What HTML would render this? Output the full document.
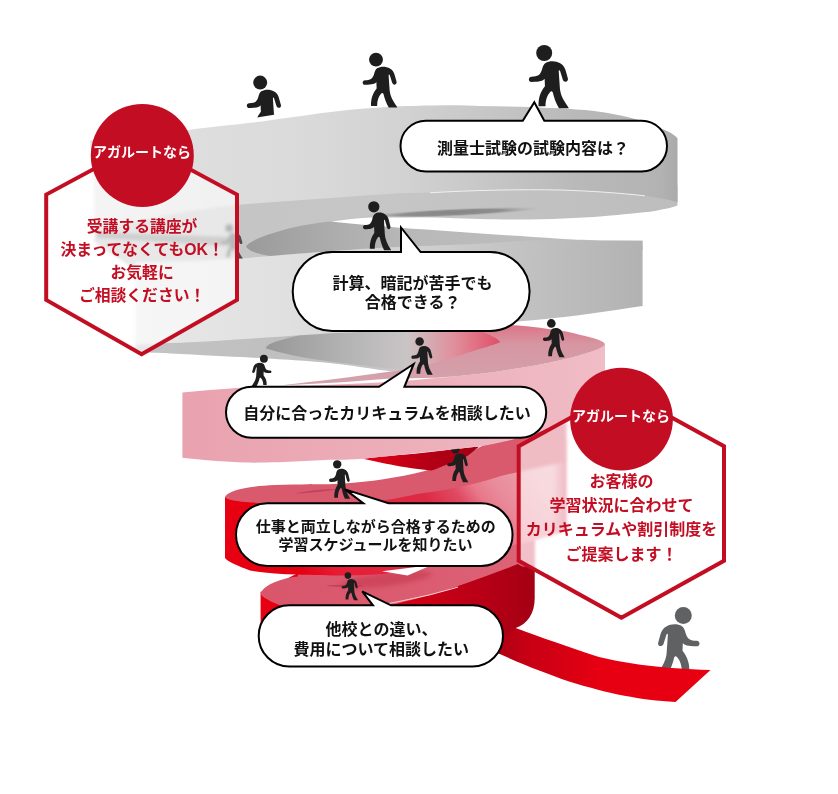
<!DOCTYPE html>
<html lang="ja">
<head>
<meta charset="utf-8">
<title>アガルートなら</title>
<style>
html,body{margin:0;padding:0;background:#fff;}
body{width:838px;height:794px;overflow:hidden;font-family:"Liberation Sans","Noto Sans CJK JP",sans-serif;}
svg{display:block;}
</style>
</head>
<body>
<svg width="838" height="794" viewBox="0 0 838 794" font-family="'Liberation Sans', 'Noto Sans CJK JP', sans-serif" font-weight="bold">

<defs>
  <linearGradient id="gT1" gradientUnits="userSpaceOnUse" x1="92" y1="0" x2="677" y2="0">
    <stop offset="0" stop-color="#e4e4e4"/><stop offset="0.17" stop-color="#dedede"/><stop offset="0.36" stop-color="#dadada"/><stop offset="0.53" stop-color="#d2d2d2"/><stop offset="0.66" stop-color="#c8c8c8"/><stop offset="0.83" stop-color="#b9b9b9"/><stop offset="0.97" stop-color="#b3b3b3"/><stop offset="1" stop-color="#aaaaaa"/>
  </linearGradient>
  <linearGradient id="gE1" gradientUnits="userSpaceOnUse" x1="94" y1="0" x2="677" y2="0">
    <stop offset="0" stop-color="#c4c4c4"/><stop offset="0.5" stop-color="#c6c6c6"/><stop offset="1" stop-color="#bdbdbd"/>
  </linearGradient>
  <linearGradient id="gT2" gradientUnits="userSpaceOnUse" x1="135" y1="0" x2="643" y2="0">
    <stop offset="0" stop-color="#e8e8e8"/><stop offset="0.3" stop-color="#e0e0e0"/><stop offset="0.6" stop-color="#cdcdcd"/><stop offset="0.85" stop-color="#bcbcbc"/><stop offset="1" stop-color="#b2b2b2"/>
  </linearGradient>
  <linearGradient id="gDark2" gradientUnits="userSpaceOnUse" x1="246" y1="0" x2="560" y2="0">
    <stop offset="0" stop-color="#9a9a9a"/><stop offset="0.3" stop-color="#aeaeae"/><stop offset="0.55" stop-color="#b9b9b9"/><stop offset="1" stop-color="#bdbdbd"/>
  </linearGradient>
  <linearGradient id="gIn" gradientUnits="userSpaceOnUse" x1="150" y1="0" x2="500" y2="0">
    <stop offset="0" stop-color="#c3c3c3"/><stop offset="0.4" stop-color="#bfbfbf"/><stop offset="0.7" stop-color="#c8c6c6"/><stop offset="0.85" stop-color="#dc9aa6"/><stop offset="1" stop-color="#e0566c"/>
  </linearGradient>
  <linearGradient id="gInDark" gradientUnits="userSpaceOnUse" x1="266" y1="0" x2="500" y2="0">
    <stop offset="0" stop-color="#979797"/><stop offset="0.35" stop-color="#b4b4b4"/><stop offset="0.6" stop-color="#c9c5c6"/><stop offset="0.8" stop-color="#e0909d"/><stop offset="1" stop-color="#e05068"/>
  </linearGradient>
  <linearGradient id="gRing" gradientUnits="userSpaceOnUse" x1="0" y1="322" x2="0" y2="385">
    <stop offset="0" stop-color="#dd6f82"/><stop offset="0.35" stop-color="#d696a2"/><stop offset="1" stop-color="#d3a3ad"/>
  </linearGradient>
  <linearGradient id="gT3" gradientUnits="userSpaceOnUse" x1="182" y1="0" x2="605" y2="0">
    <stop offset="0" stop-color="#e9a2af"/><stop offset="0.5" stop-color="#ecaeb9"/><stop offset="1" stop-color="#f0bcc6"/>
  </linearGradient>
  <linearGradient id="gWedge" gradientUnits="userSpaceOnUse" x1="363" y1="0" x2="479" y2="0">
    <stop offset="0" stop-color="#e60012"/><stop offset="0.5" stop-color="#b80016"/><stop offset="1" stop-color="#a00014"/>
  </linearGradient>
  <linearGradient id="gT4" gradientUnits="userSpaceOnUse" x1="330" y1="610" x2="560" y2="440">
    <stop offset="0" stop-color="#e60012"/><stop offset="0.1" stop-color="#e71c34"/><stop offset="0.25" stop-color="#e4243c"/><stop offset="0.5" stop-color="#dd2a44"/><stop offset="0.6" stop-color="#e04a62"/><stop offset="0.66" stop-color="#e8788a"/><stop offset="0.72" stop-color="#e98a99"/><stop offset="0.85" stop-color="#eba0ac"/><stop offset="1" stop-color="#eeb0bb"/>
  </linearGradient>
  <linearGradient id="gT4edge" gradientUnits="userSpaceOnUse" x1="552" y1="0" x2="566.5" y2="0">
    <stop offset="0" stop-color="#e4667a" stop-opacity="0"/><stop offset="0.6" stop-color="#de5c72" stop-opacity="0.7"/><stop offset="1" stop-color="#d94d66"/>
  </linearGradient>
  <linearGradient id="gS5" gradientUnits="userSpaceOnUse" x1="260" y1="0" x2="534" y2="0">
    <stop offset="0" stop-color="#d9566b"/><stop offset="0.6" stop-color="#db5c70"/><stop offset="1" stop-color="#dc6478"/>
  </linearGradient>
  <linearGradient id="gT5" gradientUnits="userSpaceOnUse" x1="260" y1="0" x2="535" y2="0">
    <stop offset="0" stop-color="#e60012"/><stop offset="0.45" stop-color="#dc0014"/><stop offset="0.8" stop-color="#b80016"/><stop offset="1" stop-color="#a40014"/>
  </linearGradient>
  <linearGradient id="gCarpet" gradientUnits="userSpaceOnUse" x1="490" y1="0" x2="600" y2="0">
    <stop offset="0" stop-color="#a80014"/><stop offset="0.35" stop-color="#c80014"/><stop offset="1" stop-color="#e60012"/>
  </linearGradient>
  <radialGradient id="gLens"><stop offset="0" stop-color="#858585"/><stop offset="0.55" stop-color="#8f8f8f"/><stop offset="1" stop-color="#b8b8b8" stop-opacity="0"/></radialGradient>
  <filter id="soft" x="-20%" y="-60%" width="140%" height="220%"><feGaussianBlur stdDeviation="2"/></filter>
  <filter id="blur" x="-10%" y="-10%" width="120%" height="120%"><feGaussianBlur stdDeviation="1.8"/></filter>
  <clipPath id="hex1"><path d="M141.6,143.2 L237,194.6 L237,299.9 L141.6,354.3 L46.2,299.9 L46.2,194.6 Z"/></clipPath>
  <clipPath id="hex2"><path d="M621.4,389.9 L724,446.2 L724,560.7 L621.4,617.7 L518.7,560.7 L518.7,446.2 Z"/></clipPath>
</defs>
<rect width="838" height="794" fill="#fff"/>
<g transform="translate(683.3 615.5) scale(-0.1133 0.1133)" fill="#5f6163" ><ellipse cx="0" cy="0.0" rx="75" ry="75.0"/><path d="M12,94 C50,70 110,72 150,96 C180,112 196,140 203,172 L222,240 C227,262 208,276 190,268 C178,262 174,252 171,240 L150,172 C146,160 138,156 136,168 L147,330 C152,390 178,440 226,508 L230,517 L138,517 C110,470 92,420 80,368 C72,356 62,358 56,366 C26,400 14,440 12,500 L-53,500 C-56,430 -40,370 7,312 L4,242 C-10,262 -40,270 -118,272 C-152,272 -152,222 -118,222 C-60,220 -40,210 -22,160 C-14,130 -6,106 12,94 Z"/></g>
<g id="scene">
<g transform="translate(260.2 82.6) scale(0.0933 0.0933)" fill="#1e1e1e" ><ellipse cx="0" cy="0.0" rx="75" ry="75.0"/><path d="M12,94 C50,70 110,72 150,96 C180,112 196,140 203,172 L222,240 C227,262 208,276 190,268 C178,262 174,252 171,240 L150,172 C146,160 138,156 136,168 L147,330 C152,390 178,440 226,508 L230,517 L138,517 C110,470 92,420 80,368 C72,356 62,358 56,366 C26,400 14,440 12,500 L-53,500 C-56,430 -40,370 7,312 L4,242 C-10,262 -40,270 -118,272 C-152,272 -152,222 -118,222 C-60,220 -40,210 -22,160 C-14,130 -6,106 12,94 Z"/></g><path d="M244,119.6 L286,112.8 L286,135 L244,135 Z" fill="#fff"/>

<g id="spiral">
  <!-- bottom carpet -->
  <path d="M470,600 C490,618 500,622 515.7,628 C540,637 570,647.5 599,657 C629,664 660,668.5 710.5,670 L675.5,702 C640,700 610,694 569,681.5 C540,671 515,662 470,640 Z" fill="url(#gCarpet)"/>

  <!-- turn 5 wall -->
  <path d="M260.6,592 L260.6,648 C262,656 275,660 300,663.5 C340,668 420,668 470,660 L515.7,628 C527,624 534.7,614 534.7,598 L534.7,540 L430,560 L300,572 Z" fill="url(#gT5)"/>
  <!-- turn 5 top surface -->
  <path d="M260.7,593.2 C263,588 268,585 273.9,582.4 C282,579 290,577.5 297.7,576.5 L300,560 L534.7,525 L534.7,566 C525,568 522,567 518,564 C513,566 508,568 505,569 C480,578 455,588 430,595 C415,599 400,603 390.8,605 C360,609 320,609 285.8,606.3 C280,605.5 277,604 273.9,602.7 C266,599 261,596 260.7,593.2 Z" fill="url(#gS5)"/>
  <!-- white gap between turn 4 wall and turn 5 surface -->

  <ellipse cx="386" cy="579.5" rx="46" ry="6.5" fill="#c6364e" fill-opacity="0.6" transform="rotate(-7 386 579.5)" filter="url(#soft)"/>
  <ellipse cx="345" cy="585.8" rx="18" ry="1.1" fill="#c23a50" fill-opacity="0.8"/>
  <!-- turn 4 wall -->
  <path d="M225,497 L225,558 C228,562 238,566 250,570.5 C265,573 280,574 297.7,574.6 C315,575.3 330,575.6 340,575.5 C360,575.3 372,574.8 383.7,574 C395,572 408,569.5 417,567 C435,563 450,559 460,556 C475,552.5 490,550 500,548 C520,544 535,540 545,537.5 C558,534 566.5,532 566.5,527 L566.5,436 L540,447 L500,468 L458,482 L420,489 L386,495 L334,498 L275,499 L225,497 Z" fill="url(#gT4)"/>
  <path d="M552,440 L566.5,440 L566.5,527 C566.5,531 560,533.5 552,535.5 Z" fill="url(#gT4edge)"/>
  <path d="M382,571.3 L432,565 L407.5,575.4 Z" fill="#fff"/>
  <path d="M389.3,603.4 C400,601.5 415,598 430.8,594.6 C440,592 450,589.5 458,587" fill="none" stroke="#f6d6da" stroke-width="1"/>
  <!-- turn 4 top surface -->
  <path d="M225,497 C228,490 250,486 275,485 C300,484 320,484.5 334,484 C360,483 386,479.5 414.5,473.5 C440,468 460,458 479,447.5 C495,440 505,436 540,422 L566.5,414 L566.5,462 C545,467 520,471 500,476.3 C485,481 470,485 458,487.3 C445,490.5 432,492 420,493.5 C405,496.5 395,499 386,500 C340,503 300,505 251,502.5 C238,501.5 226,500 225,497 Z" fill="#d9596d"/>
  <path d="M294,493.7 C310,490 325,489.2 339,489 C325,491.5 310,493 294,493.7 Z" fill="#c2445a"/>
  <!-- dark wedge under turn 3 -->
  <path d="M363,458.8 C380,456.5 400,455 414.5,453.7 C440,451 460,448.5 479.2,446.5 C475,450 471,453 467.7,455.8 C461,459.5 455,462 448.6,463.9 C442,466.5 437,468.5 431.5,470.6 C412,468.5 398,466 386,463.7 Z" fill="url(#gWedge)"/>

  <g transform="translate(455.3 448.6) scale(0.0560 0.0650)" fill="#1e1e1e" ><ellipse cx="0" cy="10.4" rx="75" ry="64.6"/><path d="M12,94 C50,70 110,72 150,96 C180,112 196,140 203,172 L222,240 C227,262 208,276 190,268 C178,262 174,252 171,240 L150,172 C146,160 138,156 136,168 L147,330 C152,390 178,440 226,508 L230,517 L138,517 C110,470 92,420 80,368 C72,356 62,358 56,366 C26,400 14,440 12,500 L-53,500 C-56,430 -40,370 7,312 L4,242 C-10,262 -40,270 -118,272 C-152,272 -152,222 -118,222 C-60,220 -40,210 -22,160 C-14,130 -6,106 12,94 Z"/></g>
  <!-- turn 3 wall (pink) -->
  <path d="M182.4,392.5 C200,390.8 220,389.2 237,388 C252,387.2 266,386.7 280,386.3 C300,385.7 318,385.1 336.8,384.5 C352,383.8 366,383.1 378.6,382.4 C390,381.7 400,381.1 408,380.5 C418,379.7 428,378.8 437,378 C460,376 480,374 494.6,372 C520,368 540,365 552,362 C565,359 575,357 580.5,355 C595,351 605,347 605,344 L605,402 C570,425 520,440 479,446.5 C450,449.5 400,455 363,458.8 C350,460 340,459.8 330,459.8 C320,460.3 310,460.9 300,461.3 C285,462.2 265,462.8 246,462.6 C225,462 200,459.8 182.4,457.8 Z" fill="url(#gT3)"/>
  <!-- turn 3 top ring -->
  <path d="M280,385.5 C300,384.5 318,383.4 336.8,382.4 C352,381.5 370,380 387,378.7 C405,378.3 420,378.1 437,377.8 C460,376 480,374 494.6,372 C520,368 540,365 552,362 C565,359 575,357 580.5,355 C595,351 605,347 605,344 C603,340 590,337 580.5,335 C570,332 562,330.5 552,329.4 C535,327 520,325.5 506,325 L440,322 L393,371.3 C391,371.5 389,371.7 387,372 C370,374.3 352,376.8 336.8,378.7 C318,380.9 300,383 280,385.5 Z" fill="url(#gRing)"/>
  <!-- funnel interior below turn 2 -->
  <path d="M135.4,340 L135.4,351.5 C155,353 165,353 170,353.5 C200,355 230,356.5 250,357.5 C270,358.5 285,359.5 300,360.5 C320,362 340,364 354,366 C370,368.5 382,370.5 393,371.5 C410,369 425,365.5 437,362 C450,358 460,355.5 466,353 C485,347 497,344 500,342 C497,338 480,332 440,322 L300,322 Z" fill="url(#gIn)"/>
  <path d="M266,348.4 C280,352.5 295,356 307,358 C325,361 345,363.5 362,365.3 C378,367.3 390,368.7 400,369.3 C415,368.3 428,365.5 437,362 C450,358 460,355.5 466,353 C485,347 497,344 500,342 C497,336 470,326 440,322 L320,322 L307,333 C300,335 295,336.5 285.3,339 C275,341.5 266,344.5 266,348.4 Z" fill="url(#gInDark)"/>

  <!-- gap zone between turn 1 and turn 2: mid-gray fill, dark opening, white gap -->
  <path d="M94.4,185 L677.5,185 L677.5,205.4 L642.6,241 L642.6,250 L135.4,270 L94.4,242 Z" fill="url(#gE1)"/>
  <path d="M97,232 L236,237 L236,247 L97,238 Z" fill="#8a8a8a"/>
  <path d="M246,246.5 C248,242 262,236 280.7,230.7 C300,225.5 315,223 331.4,221.6 C350,223.5 370,225.5 400,227.7 C450,231 500,235 560,238.8 C575,239.7 590,240.2 600,240.5 L600,246 L300,258 C275,258 250,254 246,246.5 Z" fill="url(#gDark2)"/>
  <path d="M331.4,221.6 C360,217.5 380,216.5 400,216.5 C430,217.3 460,218.5 480,219 C500,219.6 515,219.6 530,219.5 C560,219 590,217.5 611,215.5 C630,213.5 642,212.5 651.7,211.4 C665,209 672,207.5 677.5,205.4 L690,205 L690,246 L642.6,246 L642.6,240.8 L600,240.5 C585,240 570,239.5 560,238.8 C500,235 450,231 400,227.7 C370,225.5 350,223.5 331.4,221.6 Z" fill="#fff"/>
  <ellipse cx="452" cy="212.6" rx="92" ry="4.2" fill="url(#gLens)" transform="rotate(-2.6 452 212.6)"/>

  <!-- turn 2 wall -->
  <path d="M135.4,262 C170,262 215,260 240,258.4 C260,257 280,255 300,253.5 C320,252 345,250 370,248.5 C390,247.3 405,246.5 420,246 C450,245 475,244 490,243 C510,241.5 520,240.6 530,240.4 L642.6,240.8 L642.6,306 C610,311 575,316 546,319 C470,326 400,330 335,333 C310,334.5 290,336 266,337.5 C230,340 200,342 170,343 L135.4,345 Z" fill="url(#gT2)"/>

  <!-- turn 1 wall -->
  <path d="M90,140.5 C125,137.5 160,133.8 190,129.8 C202,128.3 214,127 225,125.6 C237,124.2 248,123.2 260,121.8 C270,120.4 280,119 290,117.6 C300,116.2 310,114.7 320,113.3 C330,112 340,110.8 350,109.8 C360,108.8 370,108 380,107.4 C400,106.3 415,105.9 430,105.6 C450,105 465,105.2 480,106 C520,106.5 555,107.8 585,110 C605,112 622,115.5 637,119.5 C650,123.3 662,128.5 668.6,131.8 C673,134 676,136.5 677.5,138.4 L677.5,202 C660,197.5 650,196.5 639.5,195 C600,191 560,190 530,189 C500,189 465,190.5 430.6,192.6 C420,193 410,193 400,193.2 C340,197 290,201 239,204.7 C200,208 150,218 94.4,230 L94.4,190 Z" fill="url(#gT1)"/>
  <path d="M430,192.8 C470,190.3 520,189.2 560,190 C590,190.9 620,193 645,195.8" fill="none" stroke="#f0f0f0" stroke-width="1"/>
</g>
<g transform="translate(229.3 228.2) scale(0.0587 0.0587)" fill="#4a4d50" ><ellipse cx="0" cy="0.0" rx="75" ry="75.0"/><path d="M12,94 C50,70 110,72 150,96 C180,112 196,140 203,172 L222,240 C227,262 208,276 190,268 C178,262 174,252 171,240 L150,172 C146,160 138,156 136,168 L147,330 C152,390 178,440 226,508 L230,517 L138,517 C110,470 92,420 80,368 C72,356 62,358 56,366 C26,400 14,440 12,500 L-53,500 C-56,430 -40,370 7,312 L4,242 C-10,262 -40,270 -118,272 C-152,272 -152,222 -118,222 C-60,220 -40,210 -22,160 C-14,130 -6,106 12,94 Z"/></g>
<g transform="translate(376 59.6) scale(0.0927 0.0927)" fill="#1e1e1e" ><ellipse cx="0" cy="0.0" rx="75" ry="75.0"/><path d="M12,94 C50,70 110,72 150,96 C180,112 196,140 203,172 L222,240 C227,262 208,276 190,268 C178,262 174,252 171,240 L150,172 C146,160 138,156 136,168 L147,330 C152,390 178,440 226,508 L230,517 L138,517 C110,470 92,420 80,368 C72,356 62,358 56,366 C26,400 14,440 12,500 L-53,500 C-56,430 -40,370 7,312 L4,242 C-10,262 -40,270 -118,272 C-152,272 -152,222 -118,222 C-60,220 -40,210 -22,160 C-14,130 -6,106 12,94 Z"/></g><g transform="translate(544.2 53) scale(0.1067 0.1067)" fill="#1e1e1e" ><ellipse cx="0" cy="0.0" rx="75" ry="75.0"/><path d="M12,94 C50,70 110,72 150,96 C180,112 196,140 203,172 L222,240 C227,262 208,276 190,268 C178,262 174,252 171,240 L150,172 C146,160 138,156 136,168 L147,330 C152,390 178,440 226,508 L230,517 L138,517 C110,470 92,420 80,368 C72,356 62,358 56,366 C26,400 14,440 12,500 L-53,500 C-56,430 -40,370 7,312 L4,242 C-10,262 -40,270 -118,272 C-152,272 -152,222 -118,222 C-60,220 -40,210 -22,160 C-14,130 -6,106 12,94 Z"/></g><g transform="translate(373.8 206.0) scale(0.0750 0.0857)" fill="#1e1e1e" ><ellipse cx="0" cy="9.4" rx="75" ry="65.6"/><path d="M12,94 C50,70 110,72 150,96 C180,112 196,140 203,172 L222,240 C227,262 208,276 190,268 C178,262 174,252 171,240 L150,172 C146,160 138,156 136,168 L147,330 C152,390 178,440 226,508 L230,517 L138,517 C110,470 92,420 80,368 C72,356 62,358 56,366 C26,400 14,440 12,500 L-53,500 C-56,430 -40,370 7,312 L4,242 C-10,262 -40,270 -118,272 C-152,272 -152,222 -118,222 C-60,220 -40,210 -22,160 C-14,130 -6,106 12,94 Z"/></g><g transform="translate(551.3 322.8) scale(0.0580 0.0667)" fill="#1e1e1e" ><ellipse cx="0" cy="9.8" rx="75" ry="65.2"/><path d="M12,94 C50,70 110,72 150,96 C180,112 196,140 203,172 L222,240 C227,262 208,276 190,268 C178,262 174,252 171,240 L150,172 C146,160 138,156 136,168 L147,330 C152,390 178,440 226,508 L230,517 L138,517 C110,470 92,420 80,368 C72,356 62,358 56,366 C26,400 14,440 12,500 L-53,500 C-56,430 -40,370 7,312 L4,242 C-10,262 -40,270 -118,272 C-152,272 -152,222 -118,222 C-60,220 -40,210 -22,160 C-14,130 -6,106 12,94 Z"/></g><g transform="translate(419.6 340.9) scale(0.0570 0.0655)" fill="#1e1e1e" ><ellipse cx="0" cy="9.7" rx="75" ry="65.3"/><path d="M12,94 C50,70 110,72 150,96 C180,112 196,140 203,172 L222,240 C227,262 208,276 190,268 C178,262 174,252 171,240 L150,172 C146,160 138,156 136,168 L147,330 C152,390 178,440 226,508 L230,517 L138,517 C110,470 92,420 80,368 C72,356 62,358 56,366 C26,400 14,440 12,500 L-53,500 C-56,430 -40,370 7,312 L4,242 C-10,262 -40,270 -118,272 C-152,272 -152,222 -118,222 C-60,220 -40,210 -22,160 C-14,130 -6,106 12,94 Z"/></g><g transform="translate(263.9 358.8) scale(-0.0525 0.0525)" fill="#1e1e1e" ><ellipse cx="0" cy="0.0" rx="75" ry="75.0"/><path d="M12,94 C50,70 110,72 150,96 C180,112 196,140 203,172 L222,240 C227,262 208,276 190,268 C178,262 174,252 171,240 L150,172 C146,160 138,156 136,168 L147,330 C152,390 178,440 226,508 L230,517 L138,517 C110,470 92,420 80,368 C72,356 62,358 56,366 C26,400 14,440 12,500 L-53,500 C-56,430 -40,370 7,312 L4,242 C-10,262 -40,270 -118,272 C-152,272 -152,222 -118,222 C-60,220 -40,210 -22,160 C-14,130 -6,106 12,94 Z"/></g><g transform="translate(337.2 463.4) scale(0.0560 0.0685)" fill="#1e1e1e" ><ellipse cx="0" cy="13.7" rx="75" ry="61.3"/><path d="M12,94 C50,70 110,72 150,96 C180,112 196,140 203,172 L222,240 C227,262 208,276 190,268 C178,262 174,252 171,240 L150,172 C146,160 138,156 136,168 L147,330 C152,390 178,440 226,508 L230,517 L138,517 C110,470 92,420 80,368 C72,356 62,358 56,366 C26,400 14,440 12,500 L-53,500 C-56,430 -40,370 7,312 L4,242 C-10,262 -40,270 -118,272 C-152,272 -152,222 -118,222 C-60,220 -40,210 -22,160 C-14,130 -6,106 12,94 Z"/></g><g transform="translate(347.9 575.3) scale(0.0440 0.0483)" fill="#1e1e1e" ><ellipse cx="0" cy="6.7" rx="75" ry="68.3"/><path d="M12,94 C50,70 110,72 150,96 C180,112 196,140 203,172 L222,240 C227,262 208,276 190,268 C178,262 174,252 171,240 L150,172 C146,160 138,156 136,168 L147,330 C152,390 178,440 226,508 L230,517 L138,517 C110,470 92,420 80,368 C72,356 62,358 56,366 C26,400 14,440 12,500 L-53,500 C-56,430 -40,370 7,312 L4,242 C-10,262 -40,270 -118,272 C-152,272 -152,222 -118,222 C-60,220 -40,210 -22,160 C-14,130 -6,106 12,94 Z"/></g>
</g>
<path d="M425.9,120.7 L522.8,120.7 L534.3,102.3 L544.3,120.7 L641.6,120.7 A25.4,25.4 0 0 1 667,146.1 L667,146.1 A25.4,25.4 0 0 1 641.6,171.5 L425.9,171.5 A25.4,25.4 0 0 1 400.5,146.1 L400.5,146.1 A25.4,25.4 0 0 1 425.9,120.7 Z" fill="#fff" stroke="#000" stroke-width="2" stroke-linejoin="miter"/><path d="M332.2,252 L401,252 L401,227.5 L420.6,252 L490.1,252 A39.5,39.5 0 0 1 529.6,291.5 L529.6,291.5 A39.5,39.5 0 0 1 490.1,331 L332.2,331 A39.5,39.5 0 0 1 292.7,291.5 L292.7,291.5 A39.5,39.5 0 0 1 332.2,252 Z" fill="#fff" stroke="#000" stroke-width="2" stroke-linejoin="miter"/><path d="M251.5,386.8 L379,386.8 L413.7,364 L404.4,386.8 L520.7,386.8 A25.5,25.5 0 0 1 546.2,412.3 L546.2,412.3 A25.5,25.5 0 0 1 520.7,437.8 L251.5,437.8 A25.5,25.5 0 0 1 226,412.3 L226,412.3 A25.5,25.5 0 0 1 251.5,386.8 Z" fill="#fff" stroke="#000" stroke-width="2" stroke-linejoin="miter"/><path d="M267.35,503.3 L363.3,503.3 L345,489.4 L388.5,503.3 L481.15,503.3 A31.349999999999994,31.349999999999994 0 0 1 512.5,534.65 L512.5,534.65 A31.349999999999994,31.349999999999994 0 0 1 481.15,566 L267.35,566 A31.349999999999994,31.349999999999994 0 0 1 236,534.65 L236,534.65 A31.349999999999994,31.349999999999994 0 0 1 267.35,503.3 Z" fill="#fff" stroke="#000" stroke-width="2" stroke-linejoin="miter"/><path d="M289.3,605.3 L373,605.3 L362.2,591.3 L391,605.3 L472.4,605.3 A30.600000000000023,30.600000000000023 0 0 1 503,635.9 L503,635.9 A30.600000000000023,30.600000000000023 0 0 1 472.4,666.5 L289.3,666.5 A30.600000000000023,30.600000000000023 0 0 1 258.7,635.9 L258.7,635.9 A30.600000000000023,30.600000000000023 0 0 1 289.3,605.3 Z" fill="#fff" stroke="#000" stroke-width="2" stroke-linejoin="miter"/>
<!-- frosted hexagons -->
<g clip-path="url(#hex1)"><rect x="40" y="130" width="210" height="230" fill="#fff"/><use href="#scene" filter="url(#blur)"/><rect x="40" y="130" width="210" height="230" fill="#fff" fill-opacity="0.6"/></g>
<g clip-path="url(#hex2)"><rect x="510" y="380" width="220" height="245" fill="#fff"/><use href="#scene" filter="url(#blur)"/><rect x="510" y="380" width="220" height="245" fill="#fff" fill-opacity="0.6"/></g>
<path d="M141.6,143.2 L237,194.6 L237,299.9 L141.6,354.3 L46.2,299.9 L46.2,194.6 Z" fill="none" stroke="#c30d23" stroke-width="4"/>
<path d="M621.4,389.9 L724,446.2 L724,560.7 L621.4,617.7 L518.7,560.7 L518.7,446.2 Z" fill="none" stroke="#c30d23" stroke-width="4"/>
<circle cx="142.3" cy="155.4" r="51.5" fill="#c30d23"/>
<circle cx="621.5" cy="419.1" r="51.4" fill="#c30d23"/>
<text x="533" y="153.8" font-size="16" text-anchor="middle" fill="#111">測量士試験の試験内容は？</text>
<text x="412.6" y="288.8" font-size="16" text-anchor="middle" fill="#111">計算、暗記が苦手でも</text>
<text x="412.6" y="308.3" font-size="16" text-anchor="middle" fill="#111">合格できる？</text>
<text x="387" y="419.3" font-size="16" text-anchor="middle" fill="#111">自分に合ったカリキュラムを相談したい</text>
<text x="375.8" y="531.9" font-size="15" text-anchor="middle" fill="#111">仕事と両立しながら合格するための</text>
<text x="375.5" y="550.2" font-size="15" text-anchor="middle" fill="#111">学習スケジュールを知りたい</text>
<text x="381.5" y="635.3" font-size="16" text-anchor="middle" fill="#111">他校との違い、</text>
<text x="381.3" y="654.5" font-size="16" text-anchor="middle" fill="#111">費用について相談したい</text>
<text x="142.1" y="157.2" font-size="14" text-anchor="middle" fill="#fff">アガルートなら</text>
<text x="142.1" y="231.5" font-size="15.8" text-anchor="middle" fill="#c30d23">受講する講座が</text>
<text x="142.1" y="255.1" font-size="15.8" text-anchor="middle" fill="#c30d23">決まってなくてもOK！</text>
<text x="142.1" y="278.4" font-size="15.8" text-anchor="middle" fill="#c30d23">お気軽に</text>
<text x="142.1" y="301.0" font-size="15.8" text-anchor="middle" fill="#c30d23">ご相談ください！</text>
<text x="621.1" y="420.5" font-size="14" text-anchor="middle" fill="#fff">アガルートなら</text>
<text x="621.5" y="487.3" font-size="16" text-anchor="middle" fill="#c30d23">お客様の</text>
<text x="621.5" y="510.8" font-size="16" text-anchor="middle" fill="#c30d23">学習状況に合わせて</text>
<text x="621.5" y="534.8" font-size="16" text-anchor="middle" fill="#c30d23">カリキュラムや割引制度を</text>
<text x="621.5" y="559.5" font-size="16" text-anchor="middle" fill="#c30d23">ご提案します！</text>

</svg>
</body>
</html>
